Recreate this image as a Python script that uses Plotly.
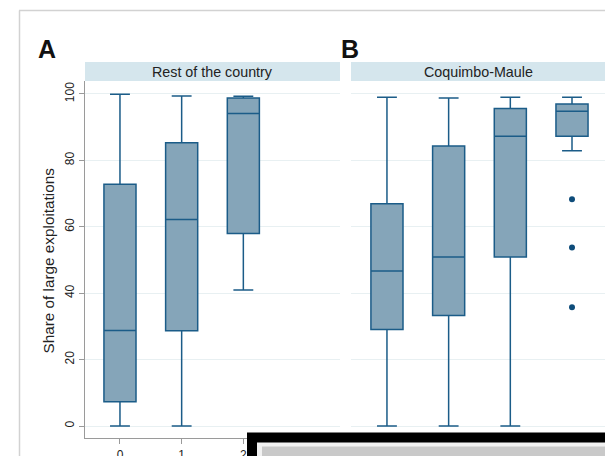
import plotly.graph_objects as go

W, H = 605, 456

categories = [0, 1, 2, 3]
tick_labels = ["0", "1", "2", "3"]
panel_titles = ["Rest of the country", "Coquimbo-Maule"]
panel_letters = ["A", "B"]
y_title = "Share of large exploitations"
y_ticks = [0, 20, 40, 60, 80, 100]

# Panel A: Rest of the country (no box for category 3)
a_cats = [0, 1, 2]
a_low = [0, 0, 41]
a_q1 = [7.3, 28.7, 58]
a_med = [28.8, 62.2, 94.1]
a_q3 = [72.8, 85.3, 98.8]
a_high = [99.9, 99.4, 99.3]

# Panel B: Coquimbo-Maule
b_cats = [0, 1, 2, 3]
b_low = [0, 0, 0, 82.9]
b_q1 = [29.1, 33.3, 50.9, 87.3]
b_med = [46.7, 50.9, 87.3, 94.8]
b_q3 = [66.9, 84.3, 95.6, 97.0]
b_high = [99.0, 98.8, 99.0, 99.0]
b_out_x = [3, 3, 3]
b_out_y = [68.3, 53.8, 35.8]

FILL = "#85a5b9"
LINE = "#1b5c88"
GRID = "#e8f0f2"


def px_x(p):
    return p / W


def px_y(p):
    return 1 - p / H


fig = go.Figure()

for cats, low, q1, med, q3, high, ax in [
    (a_cats, a_low, a_q1, a_med, a_q3, a_high, "x"),
    (b_cats, b_low, b_q1, b_med, b_q3, b_high, "x2"),
]:
    fig.add_trace(go.Box(
        x=cats, lowerfence=low, q1=q1, median=med, q3=q3, upperfence=high,
        fillcolor=FILL, line=dict(color=LINE, width=1.5),
        width=0.52, whiskerwidth=0.62, boxpoints=False,
        xaxis=ax, yaxis="y" if ax == "x" else "y2", showlegend=False,
        hoverinfo="skip",
    ))

fig.add_trace(go.Scatter(
    x=b_out_x, y=b_out_y, mode="markers",
    marker=dict(color="#0e4c7a", size=6),
    xaxis="x2", yaxis="y2", showlegend=False, hoverinfo="skip",
))

ydom = [px_y(438), px_y(81)]
yrange = [-3.6, 103.9]
common_x = dict(
    tickmode="array", tickvals=categories, ticktext=tick_labels,
    showgrid=False, zeroline=False, showline=True, linecolor="#9a9a9a",
    linewidth=1.2, ticks="outside", ticklen=5, tickcolor="#9a9a9a", automargin=False,
    tickfont=dict(family="Liberation Sans", size=12, color="#222"),
)
common_y = dict(
    range=yrange, domain=ydom, tickmode="array", tickvals=y_ticks, automargin=False,
    showgrid=True, gridcolor=GRID, gridwidth=1, zeroline=False,
    tickfont=dict(family="Liberation Sans", size=12, color="#222"),
)

fig.update_layout(
    width=W, height=H,
    margin=dict(l=0, r=0, t=0, b=0, autoexpand=False),
    paper_bgcolor="white", plot_bgcolor="white",
    xaxis=dict(domain=[px_x(85), px_x(340)], range=[-0.567, 3.567], anchor="y", **common_x),
    xaxis2=dict(domain=[px_x(351), 1.0], range=[-0.583, 3.535], anchor="y2", **common_x),
    yaxis=dict(anchor="x", showline=True, linecolor="#9a9a9a", linewidth=1.2,
               ticks="outside", ticklen=5, tickcolor="#9a9a9a", tickangle=-90,
               showticklabels=True, **common_y),
    yaxis2=dict(anchor="x2", showline=False, ticks="", showticklabels=False, **common_y),
)

shapes = []
# outer frame
shapes.append(dict(type="line", xref="paper", yref="paper", x0=px_x(19), x1=1.0,
                   y0=px_y(10.5), y1=px_y(10.5), line=dict(color="#d2d2d2", width=1.5)))
shapes.append(dict(type="line", xref="paper", yref="paper", x0=px_x(19.5), x1=px_x(19.5),
                   y0=px_y(10.5), y1=0, line=dict(color="#d2d2d2", width=1.5)))
# strips
for x0, x1 in [(85, 340), (351, 605)]:
    shapes.append(dict(type="rect", xref="paper", yref="paper", x0=px_x(x0), x1=px_x(x1),
                       y0=px_y(81), y1=px_y(62), fillcolor="#d5e6ed", line=dict(width=0),
                       layer="below"))
# overlay window artefact at the bottom
shapes.append(dict(type="rect", xref="paper", yref="paper", x0=px_x(247), x1=1.0,
                   y0=0, y1=px_y(432.5), fillcolor="black", line=dict(width=0), layer="above"))
shapes.append(dict(type="rect", xref="paper", yref="paper", x0=px_x(257), x1=1.0,
                   y0=0, y1=px_y(442.5), fillcolor="#f2f2f2", line=dict(width=0), layer="above"))
shapes.append(dict(type="rect", xref="paper", yref="paper", x0=px_x(262), x1=1.0,
                   y0=0, y1=px_y(446.5), fillcolor="#c9c9c9", line=dict(width=0), layer="above"))
fig.update_layout(shapes=shapes)

annotations = []
for (x0, x1), title in zip([(85, 340), (351, 605)], panel_titles):
    annotations.append(dict(x=px_x((x0 + x1) / 2), y=px_y(71.5), xref="paper", yref="paper",
                            text=title, showarrow=False, xanchor="center", yanchor="middle",
                            font=dict(family="Liberation Sans", size=14.3, color="#222")))
for xp, letter in zip([47, 350], panel_letters):
    annotations.append(dict(x=px_x(xp), y=px_y(49), xref="paper", yref="paper",
                            text="<b>%s</b>" % letter, showarrow=False, xanchor="center",
                            yanchor="middle",
                            font=dict(family="Liberation Sans", size=25, color="#111")))
annotations.append(dict(x=px_x(47.5), y=px_y(261), xref="paper", yref="paper", text=y_title,
                        showarrow=False, textangle=-90, xanchor="center", yanchor="middle",
                        font=dict(family="Liberation Sans", size=15.3, color="#222")))
fig.update_layout(annotations=annotations)

fig.write_html(
    "out.html",
    config={"displayModeBar": False},
    post_script="document.body.style.margin='0';document.body.style.overflow='hidden';",
)
